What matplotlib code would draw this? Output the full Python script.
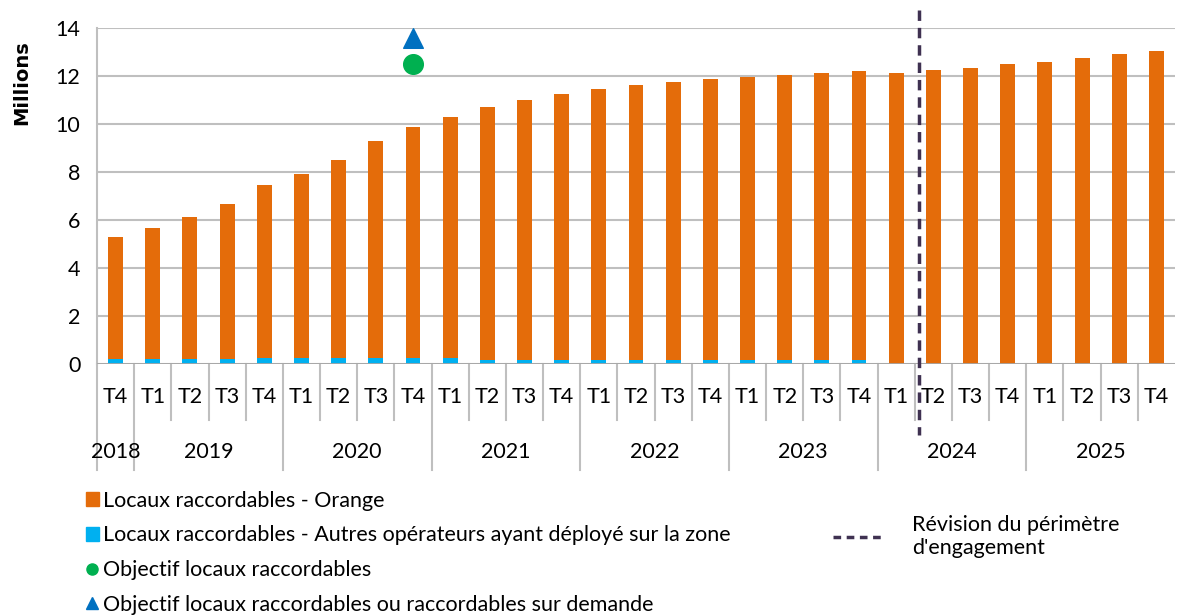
import numpy as np
import matplotlib.pyplot as plt
from matplotlib.lines import Line2D
from matplotlib.patches import Patch
import matplotlib.transforms as mtransforms

plt.rcParams['font.family'] = ['Lato', 'DejaVu Sans']

quarters = ['T4',
            'T1', 'T2', 'T3', 'T4',
            'T1', 'T2', 'T3', 'T4',
            'T1', 'T2', 'T3', 'T4',
            'T1', 'T2', 'T3', 'T4',
            'T1', 'T2', 'T3', 'T4',
            'T1', 'T2', 'T3', 'T4',
            'T1', 'T2', 'T3', 'T4']
years = ['2018', '2019', '2020', '2021', '2022', '2023', '2024', '2025']
year_counts = [1, 4, 4, 4, 4, 4, 4, 4]

# millions de locaux
orange = [5.08, 5.46, 5.92, 6.46, 7.20, 7.66, 8.24, 9.03, 9.62, 10.03, 10.53,
          10.82, 11.07, 11.28, 11.45, 11.57, 11.70, 11.79, 11.86, 11.95, 12.03,
          12.14, 12.24, 12.33, 12.49, 12.60, 12.74, 12.90, 13.04]
autres = [0.21, 0.21, 0.21, 0.21, 0.26, 0.26, 0.26, 0.26, 0.26, 0.26, 0.18,
          0.18, 0.18, 0.18, 0.18, 0.18, 0.18, 0.18, 0.18, 0.18, 0.18,
          0, 0, 0, 0, 0, 0, 0, 0]
objectif_idx = 8
objectif = 12.5
objectif_demande = 13.6
revision_pos = 21.6

c_orange = '#E46C0A'
c_blue = '#00B0F0'
c_green = '#00B050'
c_tri = '#0070C0'
c_dash = '#3F3151'
c_grid = '#BFBFBF'
fs = 15.5

fig = plt.figure(figsize=(11.82, 6.15), dpi=100)
ax = fig.add_axes([97 / 1182, 1 - 364 / 615, (1175 - 97) / 1182, 336 / 615])

x = np.arange(len(quarters))
ax.bar(x, autres, width=0.4, color=c_blue, zorder=3)
ax.bar(x, orange, width=0.4, bottom=autres, color=c_orange, zorder=3)
ax.scatter([objectif_idx], [objectif], s=200, color=c_green, zorder=4)
ax.scatter([objectif_idx], [objectif_demande], s=200, marker='^', color=c_tri, zorder=4)

ax.set_xlim(-0.5, len(quarters) - 0.5)
ax.set_ylim(0, 14)
ax.set_yticks(range(0, 15, 2))
ax.tick_params(axis='y', labelsize=fs, length=0, pad=12)
ax.yaxis.grid(True, color=c_grid, linewidth=1.5, zorder=0)
ax.set_ylabel('Millions', fontsize=14, fontweight='bold', family=['DejaVu Sans'])
ax.yaxis.set_label_coords(-0.061, 0.836)
for s in ['top', 'right', 'bottom']:
    ax.spines[s].set_visible(False)
ax.spines['left'].set_color(c_grid)
ax.spines['left'].set_linewidth(1.5)
ax.axhline(0, color='#A6A6A6', linewidth=2, zorder=3)
ax.set_xticks([])

# axe des catégories à deux niveaux
trans = mtransforms.blended_transform_factory(ax.transData, ax.transAxes)
for i, q in enumerate(quarters):
    ax.text(i, -0.098, q, transform=trans, ha='center', va='center', fontsize=fs)
year_bounds = np.cumsum([0] + year_counts)
for b in range(len(quarters)):
    if b in year_bounds:
        y_end = -0.315
    else:
        y_end = -0.167
    ax.plot([b - 0.5, b - 0.5], [0, y_end], transform=trans, color=c_grid,
            linewidth=1.5, clip_on=False)
for yr, a, n in zip(years, year_bounds[:-1], year_counts):
    ax.text(a + (n - 1) / 2, -0.262, yr, transform=trans, ha='center',
            va='center', fontsize=fs)

ax.plot([revision_pos, revision_pos], [1.054, -0.211], transform=trans,
        color=c_dash, linewidth=2.5, linestyle=(0, (3, 2)), clip_on=False, zorder=5)

handles = [Patch(color=c_orange), Patch(color=c_blue),
           Line2D([], [], marker='o', color=c_green, linestyle='none', markersize=8),
           Line2D([], [], marker='^', color=c_tri, linestyle='none', markersize=8)]
labels = ['Locaux raccordables - Orange',
          'Locaux raccordables - Autres opérateurs ayant déployé sur la zone',
          'Objectif locaux raccordables',
          'Objectif locaux raccordables ou raccordables sur demande']
fig.legend(handles, labels, loc='upper left', bbox_to_anchor=(75 / 1182, 1 - 480 / 615),
           frameon=False, fontsize=fs, handlelength=0.6, handleheight=0.6,
           handletextpad=0.2, labelspacing=0.68, borderpad=0)

fig.legend([Line2D([], [], color=c_dash, linewidth=2.5, linestyle=(0, (2.2, 1.6)))],
           ["Révision du périmètre\nd'engagement"], loc='upper left',
           bbox_to_anchor=(822 / 1182, 1 - 504 / 615), frameon=False, fontsize=fs,
           handlelength=2.4, handletextpad=1.3, borderpad=0)

fig.savefig('out.png', dpi=100)
